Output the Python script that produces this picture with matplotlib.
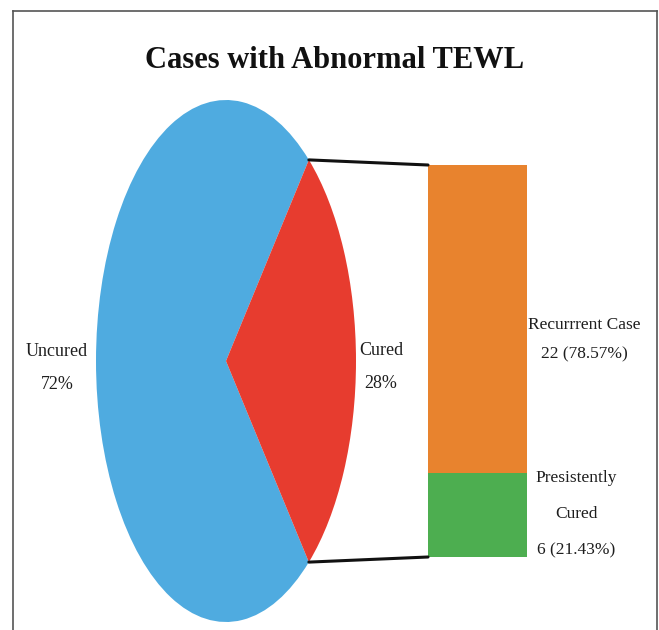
import matplotlib
matplotlib.use("Agg")
import matplotlib.pyplot as plt
from matplotlib.patches import ConnectionPatch
from matplotlib.lines import Line2D
import numpy as np

# ---- data ----
pie_labels = ["Uncured", "Cured"]
pie_values = [72, 28]
bar_labels = ["Presistently\nCured", "Recurrrent Case"]
bar_values = [6, 22]
title = "Cases with Abnormal TEWL"

pie_colors = ["#4FABE0", "#E73C2F"]
bar_colors = ["#4DAE50", "#E8832E"]

W, H = 659, 630
fig = plt.figure(figsize=(W / 100, H / 100), dpi=100)
FONT = ["Liberation Serif", "DejaVu Serif"]
TXT = "#1e1e1e"


def fx(x):
    return x / W


def fy(y):
    return 1 - y / H


def box(x0, y0, x1, y1):
    return [fx(x0), fy(y1), fx(x1) - fx(x0), fy(y0) - fy(y1)]


# ---- pie (elliptical) ----
axp = fig.add_axes(box(96, 100, 356, 622))
cured_frac = pie_values[1] / sum(pie_values)
start = 360 * cured_frac / 2
wedges, _ = axp.pie(pie_values, colors=pie_colors, startangle=start,
                    counterclock=True, radius=1,
                    wedgeprops=dict(linewidth=0))
axp.set_aspect("auto")
axp.set_xlim(-1, 1)
axp.set_ylim(-1, 1)
axp.axis("off")

# ---- stacked bar ----
axb = fig.add_axes(box(428, 165, 527, 557))
bottom = 0
for v, c in zip(bar_values, bar_colors):
    axb.bar(0, v, bottom=bottom, width=1, color=c, linewidth=0)
    bottom += v
axb.set_xlim(-0.5, 0.5)
axb.set_ylim(0, sum(bar_values))
axb.axis("off")

# ---- connecting lines ----
theta = np.deg2rad(start)
for sgn, yb in ((1, sum(bar_values)), (-1, 0)):
    con = ConnectionPatch(xyA=(np.cos(theta), sgn * np.sin(theta)), coordsA=axp.transData,
                          xyB=(-0.5, yb), coordsB=axb.transData,
                          color="#111111", linewidth=2.2)
    fig.add_artist(con)

# ---- labels ----
tot = sum(pie_values)
kw = dict(ha="center", va="center", family=FONT, color=TXT)
fig.text(fx(57), fy(368), f"{pie_labels[0]}\n{round(100 * pie_values[0] / tot)}%",
         fontsize=13, linespacing=2.25, **kw)
fig.text(fx(381), fy(367), f"{pie_labels[1]}\n{round(100 * pie_values[1] / tot)}%",
         fontsize=13, linespacing=2.2, **kw)

btot = sum(bar_values)
fig.text(fx(584), fy(340), f"{bar_labels[1]}\n{bar_values[1]} ({100 * bar_values[1] / btot:.2f}%)",
         fontsize=12.5, linespacing=2.1, **kw)
fig.text(fx(576), fy(514), f"{bar_labels[0]}\n{bar_values[0]} ({100 * bar_values[0] / btot:.2f}%)",
         fontsize=12.5, linespacing=2.7, **kw)

fig.text(fx(335), fy(60), title, ha="center", va="center", fontsize=22,
         fontweight="bold", family=FONT, color="#111111")

# ---- frame ----
fcol = "#555555"
fig.add_artist(Line2D([fx(13), fx(13)], [0, fy(11)], color=fcol, lw=1.2))
fig.add_artist(Line2D([fx(13), fx(657)], [fy(11), fy(11)], color=fcol, lw=1.2))
fig.add_artist(Line2D([fx(657), fx(657)], [fy(11), 0], color=fcol, lw=1.2))

fig.savefig("out.png", dpi=100)
